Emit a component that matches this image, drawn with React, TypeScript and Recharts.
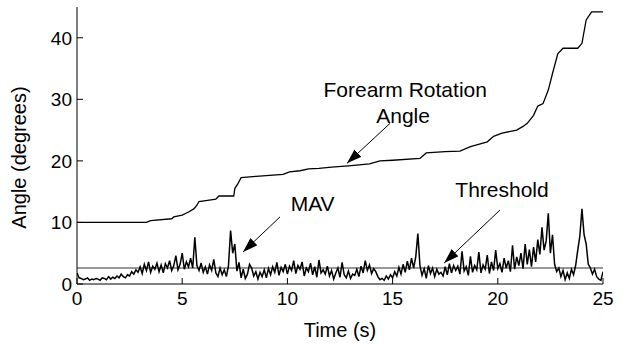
import React from 'react';
import { LineChart, Line, XAxis, YAxis, ReferenceLine, ReferenceDot, Label } from 'recharts';

// Forearm rotation angle (degrees) vs time (s)
const angleTime = [0, 3.3, 3.5, 4.5, 4.6, 5.0, 5.3, 5.55, 5.7, 5.8, 6.2, 6.6, 6.75, 7.45, 7.5, 7.65, 7.8, 8.5, 9.0, 9.8, 10.1, 10.6, 11.0, 11.5, 12.1, 12.9, 13.9, 14.4, 15.0, 16.3, 16.6, 17.5, 18.2, 18.7, 19.0, 19.5, 19.8, 20.2, 20.9, 21.2, 21.4, 21.7, 21.9, 22.15, 22.4, 22.6, 22.85, 23.1, 23.8, 24.0, 24.2, 24.46, 25];
const angleDeg = [10.0, 10.0, 10.3, 10.6, 10.9, 11.2, 11.7, 12.2, 12.8, 13.4, 13.6, 13.8, 14.3, 14.3, 15.5, 16.3, 17.3, 17.5, 17.6, 17.8, 18.2, 18.4, 18.7, 18.8, 19.0, 19.2, 19.5, 20.0, 20.1, 20.4, 21.3, 21.5, 21.6, 22.3, 22.6, 23.1, 24.0, 24.5, 25.0, 25.6, 26.1, 27.4, 28.9, 29.3, 31.5, 34.2, 37.4, 38.3, 38.3, 39.1, 42.9, 44.2, 44.2];

// MAV samples, one every 0.1 s from 0 to 25 s
const MAV_PERIOD = 0.1;
const mavDeg = [
  1.8, 1.0, 0.9, 0.7, 0.8, 1.0, 0.6, 0.8, 0.7, 0.9, 0.8, 0.6, 1.0, 0.9, 0.7, 1.2, 0.8, 1.1, 0.9, 1.3, 1.0, 1.6, 1.2, 1.0, 1.5,
  1.3, 2.0, 1.6, 2.3, 1.9,
  2.8, 1.7, 3.2, 2.2, 3.6, 1.9, 2.9, 2.4, 3.4, 2.0,
  3.1, 1.8, 3.3, 2.6, 3.8, 2.2, 3.0, 4.6, 2.3, 3.2,
  5.0, 2.4, 3.6, 2.8, 4.2, 2.6, 7.6, 3.0, 2.2, 3.4,
  1.9, 2.8, 1.6, 3.1, 2.2, 4.0, 1.8, 1.2, 2.6, 1.5,
  2.3, 1.2, 3.0, 8.7, 5.0, 6.5, 2.1, 3.5, 1.0, 2.4,
  0.9, 1.6, 3.2, 2.6, 1.3, 2.0, 0.8, 1.9, 1.2, 2.3,
  1.0, 2.5, 1.5, 2.8, 1.9, 3.5, 1.4, 2.7, 2.0, 3.2,
  1.6, 2.9, 2.2, 3.8, 1.7, 3.0, 2.4, 3.6, 1.3, 2.6,
  2.0, 3.4, 1.5, 2.8, 1.1, 3.9, 1.8, 2.3, 1.6, 2.9,
  1.3, 2.2, 0.8, 1.8, 2.6, 1.1, 3.5, 1.5, 1.0, 2.1,
  0.9, 1.6, 1.4, 2.4, 1.2, 2.9, 1.8, 3.8, 2.2, 3.1,
  1.7, 2.5, 2.0, 1.2, 0.7, 0.9, 0.6, 1.3, 0.8, 1.5,
  1.0, 2.0, 1.3, 2.7, 1.6, 3.2, 1.9, 3.7, 2.3, 4.2,
  2.6, 4.4, 8.2, 3.0, 1.4, 2.5, 0.9, 3.0, 1.7, 2.6,
  1.2, 2.4, 1.6, 1.9, 1.3, 2.8, 1.5, 3.3, 1.8, 3.0,
  2.2, 2.9, 1.6, 5.3, 2.1, 2.8, 1.4, 4.5, 1.9, 3.0,
  2.3, 5.2, 1.8, 3.1, 2.4, 4.7, 1.7, 3.6, 2.2, 5.5,
  2.5, 3.3, 1.9, 4.2, 2.6, 3.8, 2.0, 6.3, 2.4, 4.4,
  3.0, 5.0, 2.5, 6.5, 3.2, 5.6, 2.8, 6.0, 3.6, 7.2,
  4.8, 9.2, 5.5, 7.0, 11.5, 5.0, 8.0, 3.2, 2.0, 2.6,
  1.2, 2.2, 0.7, 1.8, 0.9, 2.4, 1.5, 3.0, 5.5, 7.8,
  12.2, 8.0, 6.5, 3.2, 2.6, 1.6, 2.4, 1.2, 0.8, 0.6, 2.0,
];

const thresholdDeg = 2.6;
const xTicks = [0, 5, 10, 15, 20, 25];
const yTicks = [0, 10, 20, 30, 40];

// annotations: [label, x, y] and arrows [fromX, fromY, toX, toY]
const annotationLabels: [string, number, number][] = [
  ['Forearm Rotation', 15.6, 31.6],
  ['Angle', 15.5, 27.4],
  ['MAV', 11.2, 13.1],
  ['Threshold', 20.2, 15.3],
];
const annotationArrows: [number, number, number, number][] = [
  [14.88, 26.1, 12.83, 19.6],
  [9.65, 10.9, 7.89, 5.2],
  [20.1, 12.0, 17.45, 3.4],
];

const angleData = angleTime.map((t, i) => ({ t, v: angleDeg[i] }));
const mavData = mavDeg.map((v, i) => ({ t: Math.round(i * MAV_PERIOD * 10) / 10, v }));

const FONT = '"Liberation Sans", Arial, sans-serif';

const ArrowShape = (props: any) => (
  <line x1={props.x1} y1={props.y1} x2={props.x2} y2={props.y2} stroke="#000" strokeWidth={1} markerEnd="url(#arrowHead)" />
);

const YTitle = (props: any) => {
  const vb = props.viewBox;
  const cx = vb.x + 26;
  const cy = vb.y + vb.height / 2 + 12;
  return (
    <text x={cx} y={cy} transform={`rotate(-90, ${cx}, ${cy})`} textAnchor="middle" fontSize={20} fill="#000" fontFamily={FONT}>
      Angle (degrees)
    </text>
  );
};

export default function App() {
  return (
    <div style={{ position: 'absolute', left: 0, top: 0, width: 628, height: 344, background: '#fff', fontFamily: FONT }}>
      <svg width={0} height={0} style={{ position: 'absolute' }}>
        <defs>
          <marker id="arrowHead" markerUnits="userSpaceOnUse" markerWidth={16} markerHeight={10} refX={15} refY={5} orient="auto">
            <path d="M0,0 L15,5 L0,10 z" fill="#000" />
          </marker>
        </defs>
      </svg>
      <LineChart width={628} height={344} margin={{ top: 7, right: 25, bottom: 0, left: 0 }}>
        <XAxis
          xAxisId="b"
          type="number"
          dataKey="t"
          domain={[0, 25]}
          ticks={xTicks}
          allowDataOverflow
          height={60}
          tickSize={-6}
          tickMargin={14}
          axisLine={{ stroke: '#000' }}
          tickLine={{ stroke: '#000' }}
          tick={{ fill: '#000', fontSize: 19 }}
        >
          <Label value="Time (s)" position="insideBottom" offset={7} fontSize={20} fill="#000" />
        </XAxis>
        <XAxis
          xAxisId="top"
          orientation="top"
          type="number"
          dataKey="t"
          domain={[0, 25]}
          ticks={xTicks}
          allowDataOverflow
          height={0}
          tickSize={-6}
          tick={false}
          axisLine={{ stroke: '#000' }}
          tickLine={{ stroke: '#000' }}
        />
        <YAxis
          yAxisId="l"
          type="number"
          domain={[0, 45]}
          ticks={yTicks}
          allowDataOverflow
          width={77}
          tickSize={-6}
          tickMargin={11}
          axisLine={{ stroke: '#000' }}
          tickLine={{ stroke: '#000' }}
          tick={{ fill: '#000', fontSize: 19 }}
        >
          <Label content={<YTitle />} />
        </YAxis>
        <YAxis
          yAxisId="r"
          orientation="right"
          type="number"
          domain={[0, 45]}
          ticks={yTicks}
          allowDataOverflow
          width={0}
          tickSize={-6}
          tick={false}
          axisLine={{ stroke: '#000' }}
          tickLine={{ stroke: '#000' }}
        />
        <ReferenceLine xAxisId="b" yAxisId="l" y={thresholdDeg} stroke="#333" strokeWidth={1.2} />
        <Line
          xAxisId="b"
          yAxisId="l"
          data={mavData}
          dataKey="v"
          type="linear"
          stroke="#000"
          strokeWidth={1.5}
          dot={false}
          isAnimationActive={false}
        />
        <Line
          xAxisId="b"
          yAxisId="l"
          data={angleData}
          dataKey="v"
          type="linear"
          stroke="#000"
          strokeWidth={1.3}
          dot={false}
          isAnimationActive={false}
        />
        {annotationArrows.map((a, i) => (
          <ReferenceLine
            key={`arrow-${i}`}
            xAxisId="b"
            yAxisId="l"
            segment={[{ x: a[0], y: a[1] }, { x: a[2], y: a[3] }]}
            shape={ArrowShape}
          />
        ))}
        {annotationLabels.map((l, i) => (
          <ReferenceDot
            key={`label-${i}`}
            xAxisId="b"
            yAxisId="l"
            x={l[1]}
            y={l[2]}
            r={0}
            fill="none"
            stroke="none"
            label={{ value: l[0], position: 'center', fontSize: 21, fill: '#000' }}
          />
        ))}
      </LineChart>
    </div>
  );
}
